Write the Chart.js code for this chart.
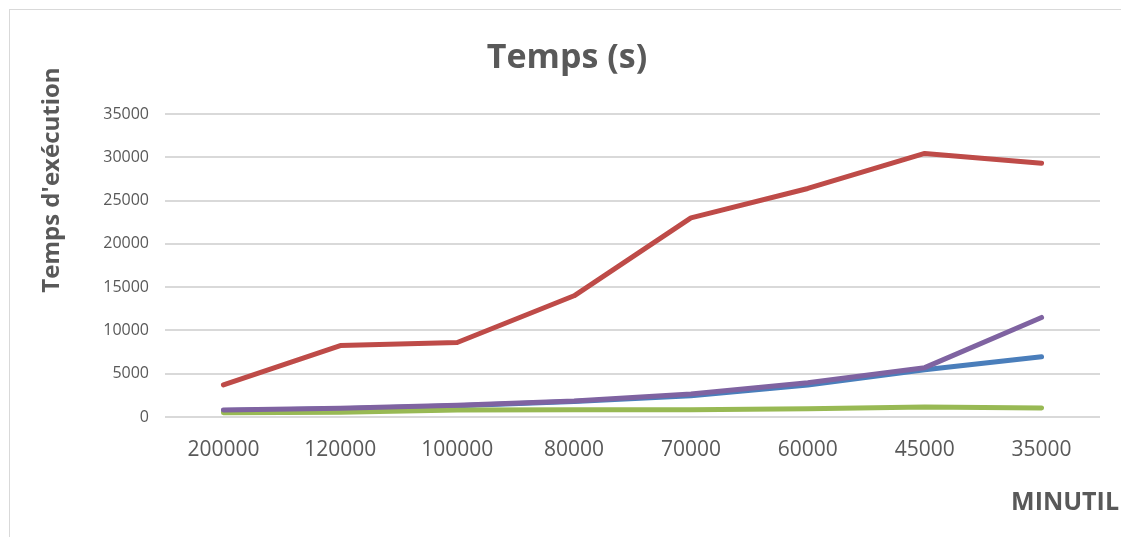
<!DOCTYPE html>
<html>
<head>
<meta charset="utf-8">
<title>Temps (s)</title>
<script src="https://cdn.jsdelivr.net/npm/chart.js@4/dist/chart.umd.min.js"></script>
<style>
  html, body { margin: 0; padding: 0; background: #ffffff; }
  #wrap { position: relative; width: 1121px; height: 537px; }
  canvas { display: block; }
</style>
</head>
<body>
<div id="wrap"><canvas id="chart" width="1121" height="537"></canvas></div>
<script>
// MINUTIL values on the horizontal axis
const categories = ['200000', '120000', '100000', '80000', '70000', '60000', '45000', '35000'];

// Execution times (seconds) for each run
const serie1 = [750, 950, 1300, 1800, 2450, 3700, 5450, 6950];
const serie2 = [3700, 8250, 8600, 14000, 23000, 26400, 30450, 29300];
const serie3 = [500, 550, 800, 850, 850, 950, 1150, 1050];
const serie4 = [800, 1000, 1350, 1850, 2650, 3950, 5700, 11500];

const seriesNames = ['Série1', 'Série2', 'Série3', 'Série4'];
const yTicks = [0, 5000, 10000, 15000, 20000, 25000, 30000, 35000];

const chartTitle = 'Temps (s)';
const yTitle = "Temps d'exécution";
const xTitle = 'MINUTIL';

const TEXT = '#595959';
const FONT = "'Open Sans', 'DejaVu Sans', sans-serif";

// Frame, chart title and axis titles drawn on the canvas
const decorations = {
  id: 'decorations',
  beforeDraw(chart) {
    const ctx = chart.ctx;
    ctx.save();
    ctx.strokeStyle = '#D9D9D9';
    ctx.lineWidth = 1;
    ctx.strokeRect(9.5, 9.5, 1300, 700);
    ctx.restore();
  },
  afterDraw(chart) {
    const ctx = chart.ctx;
    ctx.save();
    ctx.fillStyle = TEXT;
    ctx.textBaseline = 'middle';

    ctx.font = 'bold 34px ' + FONT;
    ctx.textAlign = 'center';
    ctx.fillText(chartTitle, 567, 58);

    ctx.font = 'bold 25px ' + FONT;
    ctx.textAlign = 'right';
    ctx.fillText(xTitle, 1119, 503);

    ctx.font = 'bold 24px ' + FONT;
    ctx.translate(52, 180);
    ctx.rotate(-Math.PI / 2);
    ctx.textAlign = 'center';
    ctx.fillText(yTitle, 0, 0);
    ctx.restore();
  }
};

const colors = ['#4A7EBB', '#BE4B48', '#98B954', '#7F63A1'];
const values = [serie1, serie2, serie3, serie4];

const datasets = values.map((v, i) => ({
  label: seriesNames[i],
  data: v,
  borderColor: colors[i],
  backgroundColor: colors[i],
  borderWidth: 5,
  borderCapStyle: 'round',
  borderJoinStyle: 'round',
  pointRadius: 0,
  pointHoverRadius: 0,
  tension: 0,
  fill: false,
  order: 4 - i
}));

new Chart(document.getElementById('chart'), {
  type: 'line',
  data: { labels: categories, datasets },
  options: {
    responsive: false,
    animation: false,
    devicePixelRatio: 1,
    layout: { padding: { left: 0, top: 114, right: 21, bottom: 0 } },
    plugins: {
      legend: { display: false },
      title: { display: false },
      tooltip: { enabled: false }
    },
    scales: {
      x: {
        offset: true,
        grid: { display: false, drawTicks: false },
        border: { display: false },
        ticks: {
          color: TEXT,
          font: { family: FONT, size: 21 },
          padding: 20,
          maxRotation: 0,
          autoSkip: false
        },
        afterFit(scale) { scale.height = 120; }
      },
      y: {
        min: 0,
        max: 35000,
        afterBuildTicks(scale) { scale.ticks = yTicks.map(v => ({ value: v })); },
        grid: { color: '#D9D9D9', lineWidth: 2, drawTicks: false },
        border: { display: false },
        ticks: {
          color: TEXT,
          font: { family: FONT, size: 16 },
          padding: 16,
          callback: v => String(v)
        },
        afterFit(scale) { scale.width = 165; }
      }
    }
  },
  plugins: [decorations]
});
</script>
</body>
</html>
